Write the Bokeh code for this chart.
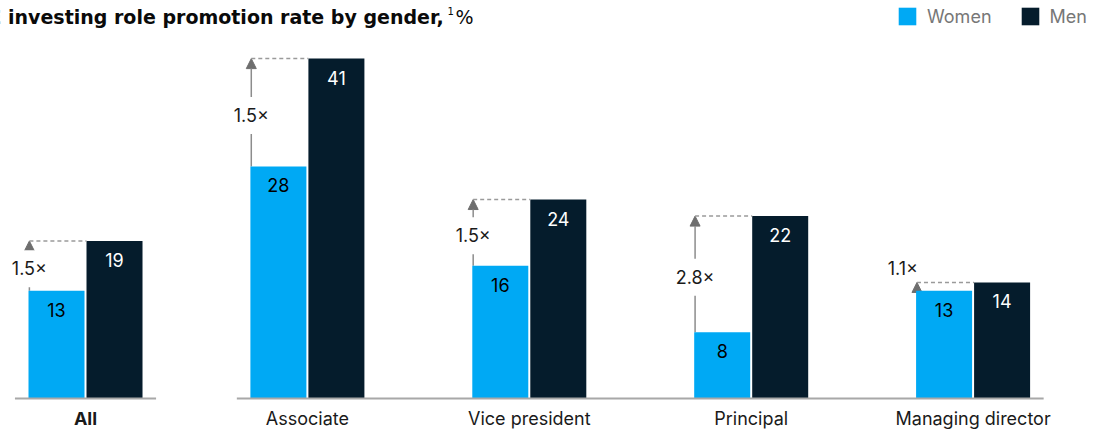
from bokeh.plotting import figure
from bokeh.models import ColumnDataSource, Range1d, Label, Legend, LegendItem, Arrow, NormalHead
from bokeh.core.properties import value
from bokeh.embed import file_html
from bokeh.resources import INLINE

# ---- data ----
categories = ["All", "Associate", "Vice president", "Principal", "Managing director"]
women = [13, 28, 16, 8, 13]
men = [19, 41, 24, 22, 14]
ratio_labels = ["1.5×", "1.5×", "1.5×", "2.8×", "1.1×"]
series = ["Women", "Men"]
title_text = "PE investing role promotion rate by gender,"
title_note = "1"
title_unit = "%"

# ---- style ----
BLUE = "#00A9F4"
NAVY = "#051C2C"
FONT = "Inter"
TFONT = "DejaVu Sans"
GRAY_AX = "#a8a8a8"
GRAY_ARROW = "#8c8c8c"
W, H = 1104, 430

idx = list(range(len(categories)))
OFF = 0.1307   # half distance between paired bar centres
BW = 0.2524    # bar width
HALF = 0.318   # half extent of baseline per group

p = figure(width=W, height=H,
           x_range=Range1d(-0.3831, 4.5922), y_range=Range1d(-3.860, 48.01),
           output_backend="svg", toolbar_location=None,
           x_axis_type=None, y_axis_type=None,
           min_border_left=0, min_border_right=0, min_border_top=0, min_border_bottom=0)
p.outline_line_color = None
p.background_fill_color = "white"
p.border_fill_color = "white"

src_w = ColumnDataSource(dict(x=[i - OFF for i in idx], top=women, label=[str(v) for v in women]))
src_m = ColumnDataSource(dict(x=[i + OFF for i in idx], top=men, label=[str(v) for v in men]))

rw = p.vbar(x="x", top="top", bottom=0, width=BW, source=src_w, fill_color=BLUE, line_color=None)
rm = p.vbar(x="x", top="top", bottom=0, width=BW, source=src_m, fill_color=NAVY, line_color=None)

p.text(x="x", y="top", text="label", source=src_w, text_align="center", text_baseline="middle",
       y_offset=19, text_font_size="18px", text_color="#000000", text_font=value(FONT))
p.text(x="x", y="top", text="label", source=src_m, text_align="center", text_baseline="middle",
       y_offset=19, text_font_size="18px", text_color="#ffffff", text_font=value(FONT))

# baseline segments (All separated from the role groups)
p.segment(x0=[idx[0] - HALF, idx[1] - HALF], x1=[idx[0] + HALF, idx[-1] + HALF],
          y0=[0, 0], y1=[0, 0], line_color=GRAY_AX, line_width=2)

# category labels
src_c = ColumnDataSource(dict(x=idx, y=[0] * len(idx), text=categories,
                              style=["bold"] + ["normal"] * (len(idx) - 1)))
p.text(x="x", y="y", text="text", source=src_c, text_align="center", text_baseline="middle",
       y_offset=20, text_font_size="18px", text_font_style="style", text_color="#1a1a1a",
       text_font=value(FONT))

# ratio arrows
ax = [i - OFF - BW / 2 + 0.004 for i in idx]
mx = [i + OFF - BW / 2 for i in idx]
src_a = ColumnDataSource(dict(ax=ax, mx=mx, w=women, m=men))
p.segment(x0="ax", y0="m", x1="mx", y1="m", source=src_a, line_color="#9a9a9a",
          line_width=1.5, line_dash="4 3")
p.add_layout(Arrow(x_start="ax", y_start="w", x_end="ax", y_end="m", source=src_a,
                   line_color=GRAY_ARROW, line_width=1.5, level="underlay",
                   end=NormalHead(size=10, fill_color="#6e6e6e", line_color="#6e6e6e")))

inside = [k for k in idx if men[k] - women[k] > 2]
above = [k for k in idx if men[k] - women[k] <= 2]
src_in = ColumnDataSource(dict(x=[ax[k] for k in inside],
                               y=[(women[k] + men[k]) / 2 for k in inside],
                               text=[ratio_labels[k] for k in inside]))
p.text(x="x", y="y", text="text", source=src_in, text_align="center", text_baseline="middle",
       y_offset=3, text_font_size="18px", text_color="#1a1a1a", text_font=value(FONT),
       background_fill_color="white", padding=8)
src_ab = ColumnDataSource(dict(x=[ax[k] for k in above], y=[men[k] for k in above],
                               text=[ratio_labels[k] for k in above]))
p.text(x="x", y="y", text="text", source=src_ab, text_align="right", text_baseline="middle",
       x_offset=1, y_offset=-14, text_font_size="18px", text_color="#1a1a1a", text_font=value(FONT))

# title (screen units, y measured from the bottom)
p.add_layout(Label(x=-26, y=H - 16, x_units="screen", y_units="screen", text=title_text,
                   text_font=TFONT, text_font_style="bold", text_font_size="19px",
                   text_color="#0a0a0a", text_baseline="alphabetic"))
p.add_layout(Label(x=447, y=H - 10, x_units="screen", y_units="screen", text=title_note,
                   text_font=TFONT, text_font_size="10px", text_color="#0a0a0a",
                   text_baseline="alphabetic"))
p.add_layout(Label(x=455, y=H - 16, x_units="screen", y_units="screen", text=title_unit,
                   text_font=TFONT, text_font_size="19px", text_color="#0a0a0a",
                   text_baseline="alphabetic"))

legend = Legend(items=[LegendItem(label=series[0], renderers=[rw]),
                       LegendItem(label=series[1], renderers=[rm])],
                orientation="horizontal", location=(896, H - 27),
                glyph_width=22, glyph_height=22, label_standoff=9, spacing=27,
                padding=0, margin=0, border_line_color=None, background_fill_alpha=0,
                label_text_font=FONT, label_text_font_size="18px", label_text_color="#777777",
                label_height=18)
p.add_layout(legend)

open("out.html", "w").write(file_html(p, INLINE))
